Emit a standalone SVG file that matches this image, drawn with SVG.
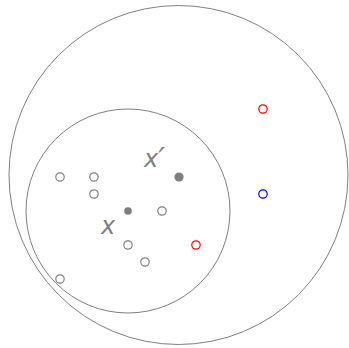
<svg xmlns="http://www.w3.org/2000/svg" width="349" height="348" viewBox="0 0 349 348">
<style>
.ring{fill:none;stroke:#808080;stroke-width:1}
.pt{fill:#fff;stroke:#808080;stroke-width:1.2}
.red{fill:#fff;stroke:#ff0000;stroke-width:1.2}
.blue{fill:#fff;stroke:#0000ff;stroke-width:1.2}
.dot{fill:#7f7f7f}
.lbl{font-family:"DejaVu Sans",sans-serif;font-style:italic;font-size:24px;fill:#7f7f7f}
</style>
<rect width="349" height="348" fill="#fff"/>
<g id="outer"><circle class="ring" cx="178.5" cy="175" r="169.5"/></g>
<g id="inner"><circle class="ring" cx="128" cy="211" r="102"/></g>
<g id="points">
<circle class="pt" cx="60" cy="177" r="4.2"/>
<circle class="pt" cx="94" cy="177" r="4.2"/>
<circle class="pt" cx="94" cy="194" r="4.2"/>
<circle class="pt" cx="162" cy="211" r="4.2"/>
<circle class="pt" cx="128" cy="245" r="4.2"/>
<circle class="pt" cx="145" cy="262" r="4.2"/>
<circle class="pt" cx="60" cy="279" r="4.2"/>
<circle class="red" cx="196" cy="245" r="4.2"/>
<circle class="red" cx="263" cy="109" r="4.2"/>
<circle class="blue" cx="263" cy="194" r="4.2"/>
</g>
<g id="x"><circle class="dot" cx="128" cy="211" r="3.8"/><text class="lbl" x="101" y="234">x</text></g>
<g id="xprime"><circle class="dot" cx="179" cy="177" r="4.6"/><text class="lbl" x="144" y="167">x<tspan font-size="30" dy="2">′</tspan></text></g>
</svg>
